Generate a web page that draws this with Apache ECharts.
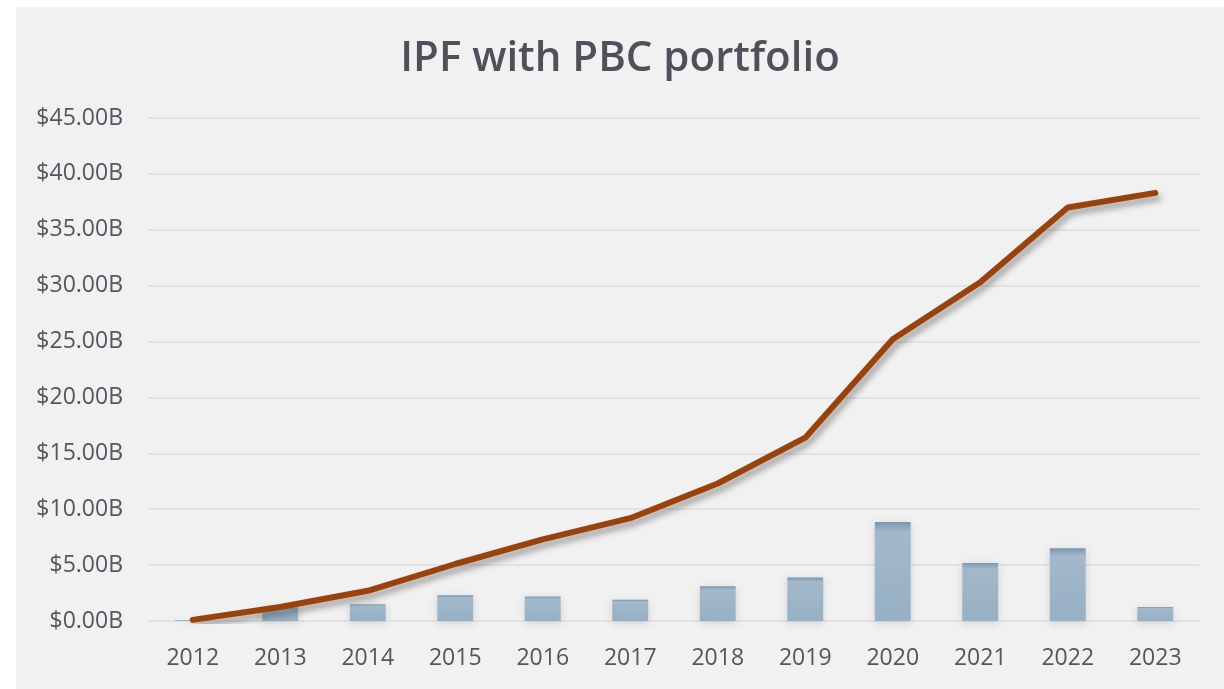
<!DOCTYPE html>
<html>
<head>
<meta charset="utf-8">
<script src="https://cdn.jsdelivr.net/npm/echarts@6/dist/echarts.min.js"></script>
<style>
  html, body { margin: 0; padding: 0; background: #ffffff; }
  #wrap { position: relative; width: 1224px; height: 689px; }
  #chart { position: absolute; left: 16px; top: 7px; width: 1208px; height: 682px; background: #f1f1f1; }
</style>
</head>
<body>
<div id="wrap"><div id="chart"></div></div>
<script>
// values in billions of dollars
const years = ['2012', '2013', '2014', '2015', '2016', '2017', '2018', '2019', '2020', '2021', '2022', '2023'];
const annualValues = [0.1, 1.2, 1.5, 2.3, 2.2, 1.9, 3.1, 3.9, 8.85, 5.2, 6.5, 1.25];
const cumulativeValues = [0.1, 1.25, 2.7, 5.1, 7.3, 9.2, 12.3, 16.4, 25.2, 30.3, 37.0, 38.3];

const chart = echarts.init(document.getElementById('chart'));
const textColor = '#55555f';

const options = {
  animation: false,
  backgroundColor: '#f1f1f1',
  title: {
    text: 'IPF with PBC portfolio',
    left: 'center',
    top: 26,
    textStyle: { fontFamily: 'Open Sans', fontSize: 42, fontWeight: 600, color: '#50505a' }
  },
  grid: { left: 133, right: 25, top: 111, bottom: 68 },
  xAxis: {
    type: 'category',
    data: years,
    axisLine: { lineStyle: { color: '#e2e2e6', width: 2 } },
    axisTick: { show: false },
    axisLabel: { fontFamily: 'Open Sans', fontSize: 23, color: textColor, margin: 26 }
  },
  yAxis: {
    type: 'value',
    min: 0,
    max: 45,
    interval: 5,
    axisLine: { show: false },
    axisTick: { show: false },
    splitLine: { lineStyle: { color: '#e2e2e6', width: 2 } },
    axisLabel: {
      fontFamily: 'Open Sans', fontSize: 23, color: textColor, margin: 26,
      formatter: v => '$' + v.toFixed(2) + 'B'
    }
  },
  series: [
    {
      name: 'Annual',
      type: 'bar',
      data: annualValues,
      barWidth: '41%',
      itemStyle: {
        color: new echarts.graphic.LinearGradient(0, 0, 0, 1, [
          { offset: 0, color: '#7797b1' },
          { offset: 0.1, color: '#a3b8ca' },
          { offset: 1, color: '#97b0c4' }
        ]),
        shadowColor: 'rgba(0,0,0,0.14)',
        shadowBlur: 8,
        shadowOffsetX: 0,
        shadowOffsetY: 2
      }
    },
    {
      name: 'Cumulative',
      type: 'line',
      data: cumulativeValues,
      showSymbol: false,
      lineStyle: {
        color: '#9a420c',
        width: 6,
        cap: 'round',
        shadowColor: 'rgba(0,0,0,0.35)',
        shadowBlur: 6,
        shadowOffsetX: 3,
        shadowOffsetY: 5
      },
      z: 3
    }
  ]
};

chart.setOption(options);
</script>
</body>
</html>
